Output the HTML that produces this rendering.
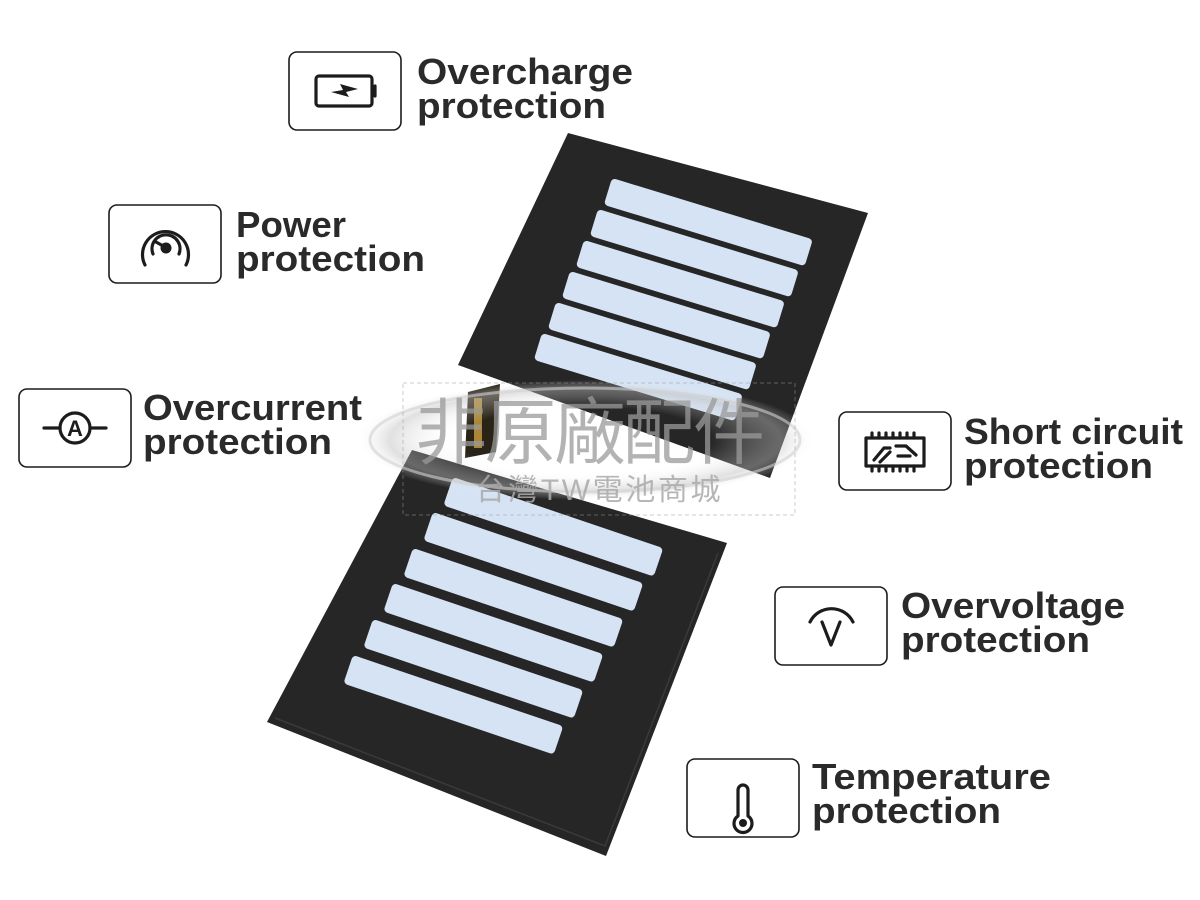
<!DOCTYPE html>
<html><head><meta charset="utf-8"><style>
html,body{margin:0;padding:0;background:#fff;width:1200px;height:900px;overflow:hidden}
svg{display:block}
.t{font-family:"Liberation Sans",sans-serif;font-weight:bold;font-size:36px;fill:#2a2a2a}
.b{fill:#fff;stroke:#1c1c1c;stroke-width:1.6}
.i{fill:none;stroke:#1c1c1c;stroke-width:3.2;stroke-linecap:round;stroke-linejoin:round}
.s{fill:#d5e3f4}
</style></head><body>
<svg width="1200" height="900" viewBox="0 0 1200 900" xmlns="http://www.w3.org/2000/svg">
<defs>
<radialGradient id="sw" cx="50%" cy="50%" r="50%">
<stop offset="0.55" stop-color="#fff" stop-opacity="0"/>
<stop offset="0.85" stop-color="#bbb" stop-opacity="0.45"/>
<stop offset="1" stop-color="#fff" stop-opacity="0"/>
</radialGradient>
</defs>
<!-- bottom battery -->
<polygon points="412,450 727,543 606,856 267,722" fill="#262626"/>
<polyline points="275,718 605,846 718,553" fill="none" stroke="#3a3a3a" stroke-width="1.5"/>
<g class="s">
<rect width="222" height="30" rx="4" transform="translate(453,477) rotate(18.7)"/>
<rect width="222" height="30" rx="4" transform="translate(433,512) rotate(18.7)"/>
<rect width="222" height="30" rx="4" transform="translate(413,548) rotate(18.7)"/>
<rect width="222" height="30" rx="4" transform="translate(393,583) rotate(18.7)"/>
<rect width="222" height="30" rx="4" transform="translate(373,619) rotate(18.7)"/>
<rect width="222" height="30" rx="4" transform="translate(353,655) rotate(18.7)"/>
</g>
<!-- top battery -->
<polygon points="568,133 868,213 770,478 458,365" fill="#262626"/>
<g class="s">
<rect width="210" height="28" rx="4" transform="translate(612,178) rotate(17)"/>
<rect width="210" height="28" rx="4" transform="translate(598,209) rotate(17)"/>
<rect width="210" height="28" rx="4" transform="translate(584,240) rotate(17)"/>
<rect width="210" height="28" rx="4" transform="translate(570,271) rotate(17)"/>
<rect width="210" height="28" rx="4" transform="translate(556,302) rotate(17)"/>
<rect width="210" height="28" rx="4" transform="translate(542,333) rotate(17)"/>
</g>
<!-- pcb -->
<polygon points="468,392 500,384 496,452 465,458" fill="#2a2418"/>
<rect x="474" y="398" width="8" height="50" fill="#c9a040" opacity="0.8"/>
<!-- watermark -->
<ellipse cx="585" cy="440" rx="230" ry="60" fill="url(#sw)"/>
<ellipse cx="585" cy="440" rx="215" ry="52" fill="none" stroke="#d0d0d0" stroke-width="3" opacity="0.6"/>
<rect x="403" y="383" width="392" height="132" fill="none" stroke="#999" stroke-dasharray="4,3" opacity="0.5"/>
<text x="590" y="458" text-anchor="middle" font-family="'Noto Sans CJK TC',sans-serif" font-size="72" fill="#9a9a9a" opacity="0.75" textLength="350">非原廠配件</text>
<text x="598" y="500" text-anchor="middle" font-family="'Liberation Sans','Noto Sans CJK TC',sans-serif" font-size="30" fill="#aaa" opacity="0.85" textLength="245">台灣TW電池商城</text>

<!-- Boxes -->
<rect class="b" x="289" y="52" width="112" height="78" rx="8"/>
<rect class="b" x="109" y="205" width="112" height="78" rx="8"/>
<rect class="b" x="19" y="389" width="112" height="78" rx="8"/>
<rect class="b" x="839" y="412" width="112" height="78" rx="8"/>
<rect class="b" x="775" y="587" width="112" height="78" rx="8"/>
<rect class="b" x="687" y="759" width="112" height="78" rx="8"/>

<!-- icons -->
<g class="i">
<rect x="316" y="76" width="56" height="30" rx="3"/>
<line x1="375" y1="86" x2="375" y2="96"/>
</g>
<path d="M331,92 L343,90 L340,84 L358,89 L346,92 L349,97 Z" fill="#1c1c1c"/>
<g class="i">
<path d="M145,265 A23,23 0 1 1 186,265"/>
<path d="M153,254 A14,14 0 1 1 179,254"/>
<line x1="156" y1="242" x2="165" y2="247"/>
</g>
<circle cx="166" cy="248" r="5.5" fill="#1c1c1c"/>
<g class="i">
<circle cx="75" cy="428" r="15"/>
<line x1="44" y1="428" x2="60" y2="428"/>
<line x1="90" y1="428" x2="106" y2="428"/>
</g>
<text x="75" y="436" text-anchor="middle" font-family="Liberation Sans,sans-serif" font-weight="bold" font-size="22" fill="#1c1c1c">A</text>
<g class="i" stroke-width="2.4">
<rect x="866" y="438" width="58" height="28"/>
<path d="M872,433v5M879,433v5M886,433v5M893,433v5M900,433v5M907,433v5M914,433v5M872,466v5M879,466v5M886,466v5M893,466v5M900,466v5M907,466v5M914,466v5"/>
<path d="M874,460 L884,448 L890,448 M880,462 L890,452 M896,446 L906,446 L916,455 M898,456 L910,456"/>
</g>
<g class="i">
<path d="M810,622 A24,24 0 0 1 853,622"/>
<path d="M822,622 L831,645 L840,622"/>
</g>
<g class="i" stroke-width="2.8">
<path d="M738,790 v26 a9,9 0 1 0 10,0 v-26 a5,5 0 0 0 -10,0 z"/>
</g>
<circle cx="743" cy="823" r="4" fill="#1c1c1c"/>

<!-- labels -->
<text class="t" x="417" y="84" textLength="216" lengthAdjust="spacingAndGlyphs">Overcharge</text>
<text class="t" x="417" y="118" textLength="189" lengthAdjust="spacingAndGlyphs">protection</text>
<text class="t" x="236" y="237" textLength="110" lengthAdjust="spacingAndGlyphs">Power</text>
<text class="t" x="236" y="271" textLength="189" lengthAdjust="spacingAndGlyphs">protection</text>
<text class="t" x="143" y="420" textLength="219" lengthAdjust="spacingAndGlyphs">Overcurrent</text>
<text class="t" x="143" y="454" textLength="189" lengthAdjust="spacingAndGlyphs">protection</text>
<text class="t" x="964" y="444" textLength="219" lengthAdjust="spacingAndGlyphs">Short circuit</text>
<text class="t" x="964" y="478" textLength="189" lengthAdjust="spacingAndGlyphs">protection</text>
<text class="t" x="901" y="618" textLength="224" lengthAdjust="spacingAndGlyphs">Overvoltage</text>
<text class="t" x="901" y="652" textLength="189" lengthAdjust="spacingAndGlyphs">protection</text>
<text class="t" x="812" y="789" textLength="239" lengthAdjust="spacingAndGlyphs">Temperature</text>
<text class="t" x="812" y="823" textLength="189" lengthAdjust="spacingAndGlyphs">protection</text>
</svg>
</body></html>
